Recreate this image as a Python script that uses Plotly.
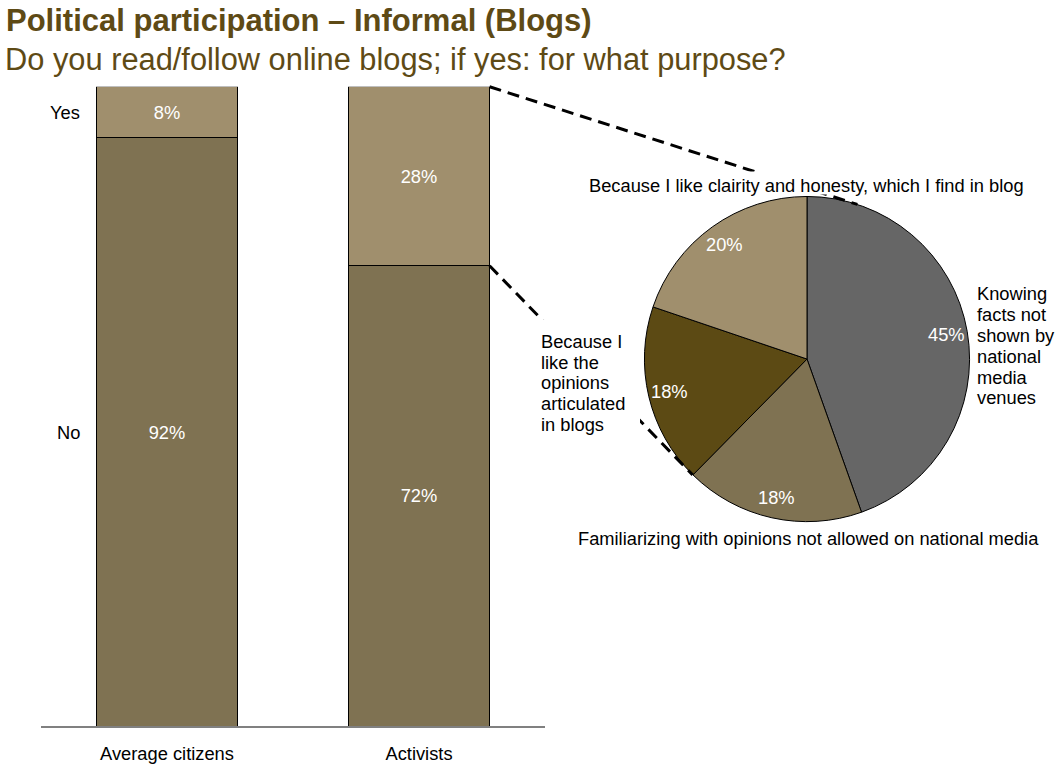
import math
import plotly.graph_objects as go

# ---- data -------------------------------------------------------------
groups = ["Average citizens", "Activists"]
no_share = [92, 72]
yes_share = [8, 28]
answer_labels = ["No", "Yes"]

purposes = [
    "Knowing facts not shown by national media venues",
    "Familiarizing with opinions not allowed on national media",
    "Because I like the opinions articulated in blogs",
    "Because I like clairity and honesty, which I find in blog",
]
purpose_share = [45, 18, 18, 20]

# ---- style / layout constants ----------------------------------------
W, H = 1056, 764
FONT = "Liberation Sans, Arial, sans-serif"
TXT = 18.3
BROWN_TITLE = "#5E4A15"
COL_NO = "#7F7252"
COL_YES = "#A08F6D"
purpose_colors = ["#666666", "#7F7252", "#5C4A14", "#A08F6D"]

BAR_X0, BAR_X1 = 41, 545      # plot area (px) of the bar chart
BAR_Y0, BAR_Y1 = 87, 728      # top / baseline (px)
BARGAP = 0.44

PIE_CX, PIE_CY, PIE_R = 807, 360, 163


def px(x):
    return x / W


def py(y):
    return 1 - y / H


def bar_y_px(v):
    return BAR_Y1 - v / 100 * (BAR_Y1 - BAR_Y0)


step = (BAR_X1 - BAR_X0) / len(groups)
half_bar = step * (1 - BARGAP) / 2


def bar_center_px(i):
    return BAR_X0 + step * (i + 0.5)


fig = go.Figure()

for vals, name, col in [(no_share, answer_labels[0], COL_NO),
                        (yes_share, answer_labels[1], COL_YES)]:
    fig.add_trace(go.Bar(
        x=groups, y=vals, name=name,
        marker=dict(color=col, line=dict(color="black", width=1)),
        text=[f"{v}%" for v in vals], textposition="inside",
        insidetextanchor="middle",
        textfont=dict(color="white", size=TXT, family=FONT),
        xaxis="x", yaxis="y",
    ))

fig.add_trace(go.Pie(
    labels=purposes, values=purpose_share, sort=False,
    direction="clockwise", rotation=0,
    marker=dict(colors=purpose_colors, line=dict(color="black", width=1)),
    textinfo="none", hoverinfo="skip", showlegend=False,
    domain=dict(x=[px(PIE_CX - PIE_R), px(PIE_CX + PIE_R)],
                y=[py(PIE_CY + PIE_R), py(PIE_CY - PIE_R)]),
))

annotations = []
shapes = []

# percentage labels on the pie, along each slice's bisector
total = sum(purpose_share)
cum = 0
slice_edges = [0.0]
for v in purpose_share:
    mid = (cum + v / 2) / total * 2 * math.pi
    cum += v
    slice_edges.append(cum / total * 2 * math.pi)
    r = 0.87 * PIE_R
    annotations.append(dict(
        x=px(PIE_CX + r * math.sin(mid)), y=py(PIE_CY - r * math.cos(mid)),
        xref="paper", yref="paper", text=f"{v}%", showarrow=False,
        font=dict(color="white", size=TXT, family=FONT),
        xanchor="center", yanchor="middle",
    ))


def on_circle(angle):
    return PIE_CX + PIE_R * math.sin(angle), PIE_CY - PIE_R * math.cos(angle)


# dashed connectors from the "Yes" segment of the activists bar to the pie
right_edge = bar_center_px(1) + half_bar
top_yes = bar_y_px(no_share[1] + yes_share[1])
bottom_yes = bar_y_px(no_share[1])
end_top = on_circle(math.radians(18))
end_bottom = on_circle(slice_edges[2])
for (x0, y0), (x1, y1) in [((right_edge, top_yes), end_top),
                           ((right_edge, bottom_yes), end_bottom)]:
    shapes.append(dict(type="line", xref="paper", yref="paper",
                       x0=px(x0), y0=py(y0), x1=px(x1), y1=py(y1),
                       line=dict(color="black", width=3, dash="12px,7px")))

# white label boxes that sit over the connectors
for (x0, y0, x1, y1) in [(580, 172, 1032, 195), (533, 320, 640, 442)]:
    shapes.append(dict(type="rect", xref="paper", yref="paper",
                       x0=px(x0), y0=py(y0), x1=px(x1), y1=py(y1),
                       fillcolor="white", line=dict(width=0)))

# pie category labels (line by line)
label_specs = [
    (["Knowing", "facts not", "shown by", "national", "media", "venues"],
     975, 294, "left"),
    ([purposes[1]], 808, 540, "center"),
    (["Because I", "like the", "opinions", "articulated", "in blogs"],
     539, 342, "left"),
    ([purposes[3]], 806, 186, "center"),
]
for lines, x, y, anchor in label_specs:
    for k, line in enumerate(lines):
        annotations.append(dict(
            x=px(x), y=py(y + k * 21), xref="paper", yref="paper",
            text=line, showarrow=False, xanchor=anchor, yanchor="middle",
            font=dict(color="black", size=TXT, family=FONT),
        ))

# answer labels to the left of the first bar
label_x = bar_center_px(0) - half_bar - 14
mids = [no_share[0] / 2, no_share[0] + yes_share[0] / 2]
for lab, m in zip(answer_labels, mids):
    annotations.append(dict(
        x=px(label_x), y=m, xref="paper", yref="y", text=lab,
        showarrow=False, xanchor="right", yanchor="middle",
        font=dict(color="black", size=TXT, family=FONT),
    ))

# title and subtitle
annotations.append(dict(
    x=px(4), y=py(21), xref="paper", yref="paper",
    text="<b>Political participation – Informal (Blogs)</b>",
    showarrow=False, xanchor="left", yanchor="middle",
    font=dict(color=BROWN_TITLE, size=31, family=FONT),
))
annotations.append(dict(
    x=px(3), y=py(60), xref="paper", yref="paper",
    text="Do you read/follow online blogs; if yes: for what purpose?",
    showarrow=False, xanchor="left", yanchor="middle",
    font=dict(color=BROWN_TITLE, size=30.8, family=FONT),
))

fig.update_layout(
    width=W, height=H, margin=dict(l=0, r=0, t=0, b=0),
    paper_bgcolor="white", plot_bgcolor="white",
    barmode="stack", bargap=BARGAP, showlegend=False,
    font=dict(family=FONT, size=TXT, color="black"),
    xaxis=dict(domain=[px(BAR_X0), px(BAR_X1)], showgrid=False,
               showline=True, linecolor="#808080", linewidth=2,
               ticks="outside", ticklen=10, tickcolor="rgba(0,0,0,0)",
               tickfont=dict(size=TXT, family=FONT, color="black"),
               fixedrange=True),
    yaxis=dict(domain=[py(BAR_Y1), py(BAR_Y0)], range=[0, 100],
               showgrid=False, showticklabels=False, zeroline=False,
               showline=False, fixedrange=True),
    shapes=shapes, annotations=annotations, hovermode=False,
)

fig.write_html("out.html", config={"displayModeBar": False})
